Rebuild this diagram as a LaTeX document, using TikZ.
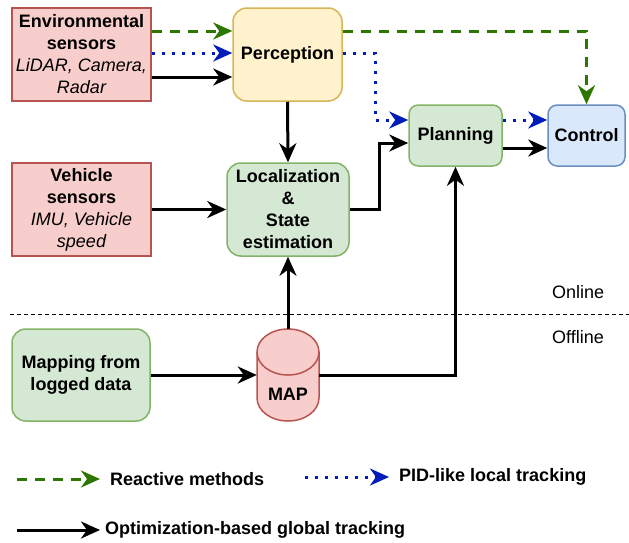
\documentclass[tikz,border=0pt]{standalone}
\usepackage{fontspec}
\setmainfont{Liberation Sans}
\usetikzlibrary{arrows.meta}
\definecolor{pinkF}{HTML}{F8CECC}\definecolor{pinkD}{HTML}{B85450}
\definecolor{yelF}{HTML}{FFF2CC}\definecolor{yelD}{HTML}{D6B656}
\definecolor{grnF}{HTML}{D5E8D4}\definecolor{grnD}{HTML}{82B366}
\definecolor{bluF}{HTML}{DAE8FC}\definecolor{bluD}{HTML}{6C8EBF}
\definecolor{arrG}{HTML}{2D7600}\definecolor{arrB}{HTML}{001DBC}
\newcommand{\lightit}[1]{{\mdseries\itshape #1}}
\tikzset{
  box/.style={draw, line width=1.5pt, inner sep=0pt, align=center,
    font=\fontsize{18}{22}\selectfont\bfseries},
  pinkbox/.style={box, fill=pinkF, draw=pinkD},
  yelbox/.style={box, fill=yelF, draw=yelD, rounded corners=13.8pt},
  grnbox/.style={box, fill=grnF, draw=grnD, rounded corners=13.8pt},
  smallgrn/.style={box, fill=grnF, draw=grnD, rounded corners=9.2pt},
  smallblu/.style={box, fill=bluF, draw=bluD, rounded corners=9.2pt},
  tip/.style={-{Stealth[length=19pt,width=17pt,inset=6pt]}},
  solidarr/.style={tip, line width=3pt, black},
  greenarr/.style={tip, line width=3pt, arrG, dash pattern=on 10pt off 8pt},
  bluearr/.style={tip, line width=3pt, arrB, dash pattern=on 3pt off 7pt},
  legtext/.style={anchor=west, inner sep=0pt, font=\fontsize{18}{22}\selectfont\bfseries},
  zonetext/.style={anchor=west, inner sep=0pt, font=\fontsize{18}{22}\selectfont}
}
\begin{document}
\begin{tikzpicture}[x=1pt, y=-1pt]
\useasboundingbox (0,0) rectangle (629,542);

\node[pinkbox, minimum width=139pt, minimum height=93pt] (env) at (81.5,54.5)
  {Environmental\\sensors\\\lightit{LiDAR, Camera,}\\\lightit{Radar}};
\node[yelbox, minimum width=109pt, minimum height=93pt] (perc) at (287.5,54.5) {Perception};
\node[smallgrn, minimum width=93pt, minimum height=61pt] (plan) at (455.5,135.5) {Planning};
\node[smallblu, minimum width=77pt, minimum height=61pt] (ctrl) at (586.5,135.5) {Control};
\node[pinkbox, minimum width=139pt, minimum height=93pt] (veh) at (81.5,209.5)
  {Vehicle\\sensors\\\lightit{IMU, Vehicle}\\\lightit{speed}};
\node[grnbox, minimum width=122pt, minimum height=93pt] (loc) at (288,209.5)
  {Localization\\\&\\State\\estimation};
\node[grnbox, minimum width=138pt, minimum height=92pt] (mapping) at (81,375)
  {Mapping from\\logged data};

% MAP cylinder
\node[minimum width=62pt, minimum height=92pt, inner sep=0pt] (map) at (288,375) {};
\filldraw[fill=pinkF, draw=pinkD, line width=1.5pt]
  (257,352) -- (257,398) arc[start angle=180, end angle=360, x radius=31pt, y radius=23pt]
  -- (319,352) arc[start angle=0, end angle=180, x radius=31pt, y radius=23pt] -- cycle;
\draw[draw=pinkD, line width=1.5pt]
  (257,352) arc[start angle=180, end angle=360, x radius=31pt, y radius=23pt];
\node[font=\fontsize{18}{22}\selectfont\bfseries, inner sep=0pt] (maptext) at (288,394) {MAP};

% separator
\coordinate (sepL) at (10,314);
\coordinate (sepR) at (629,314);
\draw[line width=1pt, dash pattern=on 4pt off 3pt] (sepL) -- (sepR);
\node[zonetext] (online) at (552,292) {Online};
\node[zonetext] (offline) at (552,337) {Offline};

% connectors
\draw[greenarr] (env.east|-0,31) -- (perc.west|-0,31);
\draw[bluearr] (env.east|-0,53) -- (perc.west|-0,53);
\draw[solidarr] (env.east|-0,77) -- (perc.west|-0,77);

\draw[greenarr] (perc.east|-0,31) -| (ctrl.north);
\draw[bluearr] (perc.east|-0,53) -- (375,53) |- (plan.west|-0,120);
\draw[bluearr] (plan.east|-0,120) -- (ctrl.west|-0,120);
\draw[solidarr] (plan.east|-0,148) -- (ctrl.west|-0,148);

\draw[solidarr] (perc.south) -- (loc.north);
\draw[solidarr] (veh.east) -- (loc.west);
\draw[solidarr] (loc.east) -- (379,209.5) |- (plan.west|-0,143);
\draw[solidarr] (map.north) -- (loc.south);
\draw[solidarr] (map.east) -| (plan.south);
\draw[solidarr] (mapping.east) -- (map.west);

% legend
\coordinate (lgA1) at (17,479); \coordinate (lgA2) at (100,479);
\coordinate (lgB1) at (305,477); \coordinate (lgB2) at (389,477);
\coordinate (lgC1) at (17,530); \coordinate (lgC2) at (100,530);
\draw[greenarr] (lgA1) -- (lgA2);
\draw[bluearr] (lgB1) -- (lgB2);
\draw[solidarr] (lgC1) -- (lgC2);
\node[legtext] (lgAt) at (110,479) {Reactive methods};
\node[legtext] (lgBt) at (399,477) {PID-like local tracking};
\node[legtext] (lgCt) at (105,530) {Optimization-based global tracking};
\end{tikzpicture}
\end{document}
